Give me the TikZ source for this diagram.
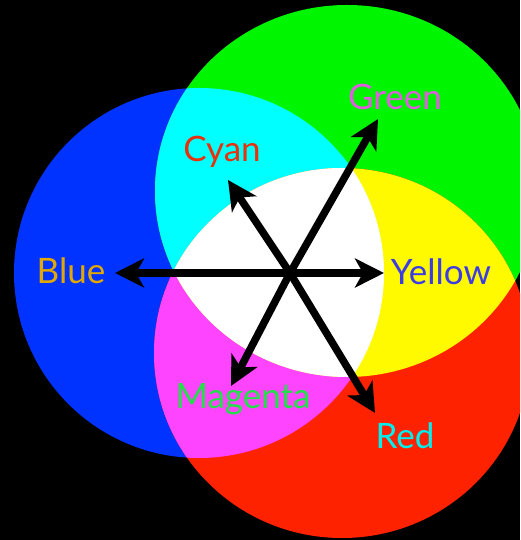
\documentclass[tikz,border=0pt]{standalone}
\usepackage{fontspec}
\setmainfont{Lato}
\usepackage{xcolor}
\usetikzlibrary{arrows.meta}

\definecolor{discblue}{HTML}{0033FF}
\definecolor{discgreen}{HTML}{00F500}
\definecolor{discred}{HTML}{FF2200}
\definecolor{disccyan}{HTML}{00FFFF}
\definecolor{discmagenta}{HTML}{FF44FF}
\definecolor{discyellow}{HTML}{FFFA00}
\definecolor{txtgold}{HTML}{E2A800}
\definecolor{txtpink}{HTML}{E25CE2}
\definecolor{txtred}{HTML}{E8300C}
\definecolor{txtblue}{HTML}{3C3CE6}
\definecolor{txtgreen}{HTML}{22E048}
\definecolor{txtcyan}{HTML}{00EEEE}

% the three light discs
\newcommand{\bluedisc}{(199,267) ellipse [x radius=185, y radius=185]}
\newcommand{\greendisc}{(347,349) ellipse [x radius=192, y radius=186]}
\newcommand{\reddisc}{(342,187) ellipse [x radius=188, y radius=185]}

\begin{document}
\begin{tikzpicture}[
  x=1pt,
  y=1pt,
  ray/.style={-{Stealth[length=29pt, width=29pt, inset=8pt]}, line width=7.5pt, black},
  colname/.style={font=\fontsize{35}{40}\selectfont, anchor=base, inner sep=0pt}
]
  \useasboundingbox (0,0) rectangle (520,540);
  \fill[black] (0,0) rectangle (520,540);

  \begin{scope}
    \clip (0,0) rectangle (520,540);
    \fill[discblue] \bluedisc;
    \fill[discgreen] \greendisc;
    \fill[discred] \reddisc;
    % pairwise overlaps
    \begin{scope}
      \clip \bluedisc;
      \fill[disccyan] \greendisc;
      \fill[discmagenta] \reddisc;
    \end{scope}
    \begin{scope}
      \clip \greendisc;
      \fill[discyellow] \reddisc;
    \end{scope}
    % all three
    \begin{scope}
      \clip \bluedisc;
      \clip \greendisc;
      \fill[white] \reddisc;
    \end{scope}
  \end{scope}

  \coordinate (o) at (290,267);
  \coordinate (tipblue) at (115,267);
  \coordinate (tipyellow) at (384,267);
  \coordinate (tipgreen) at (378,421);
  \coordinate (tipmagenta) at (231,154);
  \coordinate (tipcyan) at (228,360);
  \coordinate (tipred) at (375,127);

  \foreach \t in {blue,yellow,green,magenta,cyan,red}
    \draw[ray] (o) -- (tip\t);

  \node[colname, text=txtgold] (blue) at (71,256) {Blue};
  \node[colname, text=txtblue] (yellow) at (441,255) {Yellow};
  \node[colname, text=txtpink] (green) at (395,430) {Green};
  \node[colname, text=txtred] (cyan) at (222,378) {Cyan};
  \node[colname, text=txtgreen] (magenta) at (243,131) {Magenta};
  \node[colname, text=txtcyan] (red) at (405,91) {Red};
\end{tikzpicture}
\end{document}
